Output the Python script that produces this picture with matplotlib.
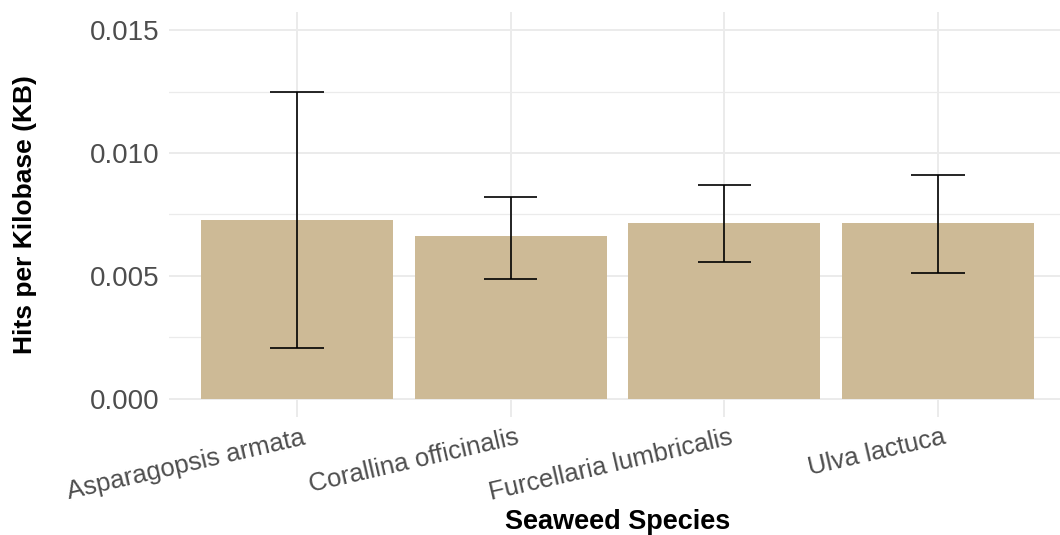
import matplotlib.pyplot as plt
import matplotlib.transforms as mtransforms
import numpy as np

species = ['Asparagopsis armata', 'Corallina officinalis', 'Furcellaria lumbricalis', 'Ulva lactuca']
hits_mean = [0.00729, 0.00664, 0.00717, 0.00717]
err_low = [0.00205, 0.00489, 0.00558, 0.00513]
err_high = [0.01249, 0.00822, 0.00871, 0.00912]

plt.rcParams['font.family'] = ['Liberation Sans', 'DejaVu Sans']

fig = plt.figure(figsize=(10.6, 5.35), dpi=100)
ax = fig.add_axes([0.1594, 0.2206, 0.8463, 0.757])

x = np.arange(len(species))
grid_col = '#EBEBEB'

# grid
for v in [0, 0.005, 0.010, 0.015]:
    ax.axhline(v, color=grid_col, lw=1.4, zorder=0)
for v in [0.0025, 0.0075, 0.0125]:
    ax.axhline(v, color=grid_col, lw=0.9, zorder=0)
for xi in x:
    ax.axvline(xi, color=grid_col, lw=1.4, zorder=0)

ax.bar(x, hits_mean, width=0.9, color='#CDBA96', zorder=2)
ax.vlines(x, err_low, err_high, color='black', lw=1.2, zorder=3)
ax.hlines(err_low, x - 0.125, x + 0.125, color='black', lw=1.2, zorder=3)
ax.hlines(err_high, x - 0.125, x + 0.125, color='black', lw=1.2, zorder=3)

ax.set_xlim(-0.6, 3.6)
ax.set_ylim(-0.00075, 0.01575)
ax.set_yticks([0, 0.005, 0.010, 0.015])
ax.set_yticklabels(['0.000', '0.005', '0.010', '0.015'])
ax.set_xticks(x)
ax.set_xticklabels(species, rotation=13, ha='right', va='top', rotation_mode='anchor')
ax.tick_params(axis='both', length=0, colors='#4D4D4D')
ax.tick_params(axis='y', pad=7, labelsize=20)
ax.tick_params(axis='x', pad=6, labelsize=18.5)
shift = mtransforms.ScaledTranslation(5 / 100, 0, fig.dpi_scale_trans)
for lab in ax.get_xticklabels():
    lab.set_transform(lab.get_transform() + shift)
for s in ax.spines.values():
    s.set_visible(False)

ax.set_xlabel('Seaweed Species', fontsize=19.5, fontweight='bold', va='center')
ax.xaxis.set_label_coords(0.5, -0.259)
ax.set_ylabel('Hits per Kilobase (KB)', fontsize=19, fontweight='bold', va='center')
ax.yaxis.set_label_coords(-0.1605, 0.5)

fig.savefig('out.png', dpi=100)
